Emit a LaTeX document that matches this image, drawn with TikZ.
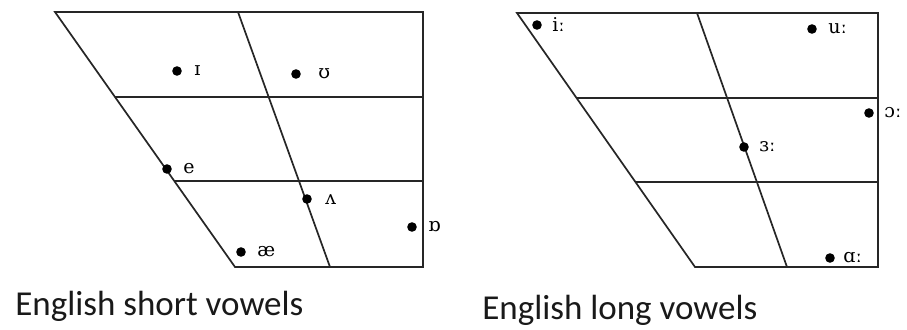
\documentclass[tikz,border=0pt]{standalone}
\usepackage{fontspec}
\setmainfont{Carlito}
\newfontfamily\ipafont{DejaVu Serif}
\begin{document}
\begin{tikzpicture}[x=0.5pt,y=-0.5pt,
  chart/.style={line width=0.85pt, draw=black!85},
  vdot/.style={circle, fill=black, inner sep=0pt, minimum size=4.8pt},
  vlab/.style={anchor=west, inner sep=0pt, font=\ipafont\fontsize{9.5}{11}\selectfont},
  caption/.style={anchor=base west, inner sep=0pt, font=\fontsize{17.5}{20}\selectfont, text=black!90}]
\useasboundingbox[fill=white] (0,0) rectangle (907,330);
% ---- left chart
\coordinate (LTL) at (55,12);
\coordinate (LTR) at (423,12);
\coordinate (LBR) at (423,267);
\coordinate (LBL) at (235,267);
\coordinate (LMT) at (238,12);
\coordinate (LMB) at (330,267);
\coordinate (LH1a) at (115,97);
\coordinate (LH1b) at (423,97);
\coordinate (LH2a) at (175,181);
\coordinate (LH2b) at (423,181);
\draw[chart] (LTL) -- (LTR) -- (LBR) -- (LBL) -- cycle;
\draw[chart] (LMT) -- (LMB);
\draw[chart] (LH1a) -- (LH1b);
\draw[chart] (LH2a) -- (LH2b);
\node[vdot] (dI) at (177,71) {};
\node[vlab] (lI) at (194,71) {ɪ};
\node[vdot] (dU) at (296,74) {};
\node[vlab] (lU) at (318,74) {ʊ};
\node[vdot] (dE) at (167,169) {};
\node[vlab] (lE) at (183,169) {e};
\node[vdot] (dV) at (307,199) {};
\node[vlab] (lV) at (325,200) {ʌ};
\node[vdot] (dO) at (412,227) {};
\node[vlab] (lO) at (428,227) {ɒ};
\node[vdot] (dAE) at (241,252) {};
\node[vlab] (lAE) at (257,252) {æ};
% ---- right chart
\coordinate (RTL) at (517,13);
\coordinate (RTR) at (878,13);
\coordinate (RBR) at (878,267);
\coordinate (RBL) at (695,267);
\coordinate (RMT) at (697,13);
\coordinate (RMB) at (787,267);
\coordinate (RH1a) at (577,98);
\coordinate (RH1b) at (878,98);
\coordinate (RH2a) at (636,182);
\coordinate (RH2b) at (878,182);
\draw[chart] (RTL) -- (RTR) -- (RBR) -- (RBL) -- cycle;
\draw[chart] (RMT) -- (RMB);
\draw[chart] (RH1a) -- (RH1b);
\draw[chart] (RH2a) -- (RH2b);
\node[vdot] (dii) at (537,25) {};
\node[vlab] (lii) at (552,25) {iː};
\node[vdot] (duu) at (812,29) {};
\node[vlab] (luu) at (828,29) {uː};
\node[vdot] (doo) at (869,113) {};
\node[vlab] (loo) at (884,113) {ɔː};
\node[vdot] (d33) at (744,147) {};
\node[vlab] (l33) at (759,147) {ɜː};
\node[vdot] (daa) at (830,258) {};
\node[vlab] (laa) at (843,258) {ɑː};
% ---- captions
\node[caption] (capS) at (15,316) {English short vowels};
\node[caption] (capL) at (482,320) {English long vowels};
\end{tikzpicture}
\end{document}
